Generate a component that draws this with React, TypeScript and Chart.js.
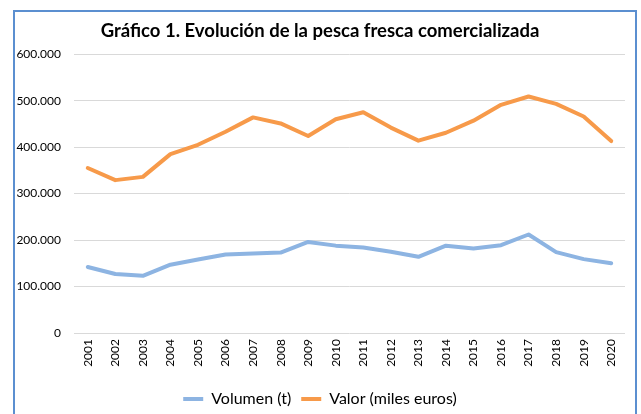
import React, { useEffect, useRef } from "react";
import { Chart, registerables } from "chart.js";

Chart.register(...registerables);

const years = ["2001","2002","2003","2004","2005","2006","2007","2008","2009","2010","2011","2012","2013","2014","2015","2016","2017","2018","2019","2020"];
const volumen = [142000,127000,123000,147000,158000,169000,171000,173000,196000,188000,184000,175000,164000,188000,182000,189000,212000,174000,159000,150000];
const valor = [355000,329000,336000,385000,405000,433000,464000,451000,424000,460000,475000,442000,414000,431000,457000,491000,509000,493000,466000,413000];
const yTicks = [0,100000,200000,300000,400000,500000,600000];

const FONT = "Lato, 'Liberation Sans', sans-serif";

const fmt = (v: number) => String(v).replace(/\B(?=(\d{3})+(?!\d))/g, ".");

const borderPlugin = {
  id: "outerBorder",
  beforeDraw(chart: any) {
    const ctx = chart.ctx;
    ctx.save();
    ctx.fillStyle = "#ffffff";
    ctx.fillRect(0, 0, chart.width, chart.height);
    ctx.strokeStyle = "#5B8FD0";
    ctx.lineWidth = 2;
    ctx.strokeRect(14, 11, 622, 430);
    ctx.restore();
  },
};

export default function App() {
  const ref = useRef<HTMLCanvasElement | null>(null);
  useEffect(() => {
    if (!ref.current) return;
    const chart = new Chart(ref.current, {
      type: "line",
      data: {
        labels: years,
        datasets: [
          {
            label: "Volumen (t)",
            data: volumen,
            borderColor: "#8DB4E2",
            backgroundColor: "#8DB4E2",
            borderWidth: 4,
            borderCapStyle: "round",
            borderJoinStyle: "round",
            pointRadius: 0,
            tension: 0,
          },
          {
            label: "Valor (miles euros)",
            data: valor,
            borderColor: "#F79A4A",
            backgroundColor: "#F79A4A",
            borderWidth: 4,
            borderCapStyle: "round",
            borderJoinStyle: "round",
            pointRadius: 0,
            tension: 0,
          },
        ],
      },
      options: {
        responsive: false,
        animation: false,
        devicePixelRatio: 1,
        layout: { padding: { top: 12, left: 15, right: 16, bottom: -3 } },
        plugins: {
          title: {
            display: true,
            text: "Gráfico 1. Evolución de la pesca fresca comercializada",
            color: "#000",
            font: { family: FONT, size: 18.5, weight: "bold" },
            padding: { top: 8, bottom: 12 },
          },
          legend: {
            position: "bottom",
            labels: {
              usePointStyle: true,
              pointStyle: "line",
              pointStyleWidth: 20,
              boxHeight: 8,
              color: "#000",
              font: { family: FONT, size: 16 },
              padding: 10,
            },
          },
          tooltip: { enabled: false },
        },
        scales: {
          x: {
            offset: true,
            grid: { display: false, drawTicks: false, offset: true },
            border: { display: false },
            ticks: {
              minRotation: 90,
              maxRotation: 90,
              padding: 6,
              color: "#000",
              font: { family: FONT, size: 12 },
            },
            afterFit(scale: any) {
              scale.height = 48;
            },
          },
          y: {
            min: 0,
            max: 600000,
            grid: { color: "#D9D9D9", lineWidth: 1, drawTicks: false },
            border: { display: false },
            afterBuildTicks(scale: any) {
              scale.ticks = yTicks.map((v) => ({ value: v }));
            },
            ticks: {
              padding: 13,
              color: "#000",
              font: { family: FONT, size: 12 },
              callback: (v: any) => fmt(Number(v)),
            },
            afterFit(scale: any) {
              scale.width = 59;
            },
          },
        },
      },
      plugins: [borderPlugin],
    } as any);
    return () => chart.destroy();
  }, []);
  return (
    <canvas
      ref={ref}
      width={641}
      height={414}
      style={{ position: "absolute", left: 0, top: 0, width: 641, height: 414, display: "block" }}
    />
  );
}
